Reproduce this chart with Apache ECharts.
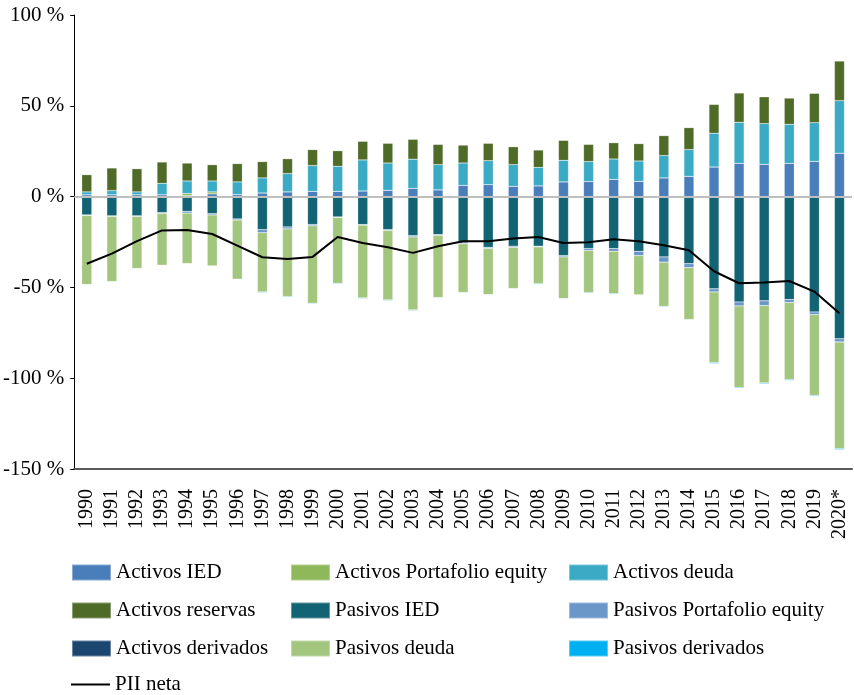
<!DOCTYPE html>
<html>
<head>
<meta charset="utf-8">
<script src="https://cdn.jsdelivr.net/npm/echarts@6/dist/echarts.min.js"></script>
<style>
  html, body { margin: 0; padding: 0; background: #fff; }
  #chart { width: 854px; height: 695px; }
</style>
</head>
<body>
<div id="chart"></div>
<script>
// años
var years = ['1990','1991','1992','1993','1994','1995','1996','1997','1998','1999',
  '2000','2001','2002','2003','2004','2005','2006','2007','2008','2009',
  '2010','2011','2012','2013','2014','2015','2016','2017','2018','2019','2020*'];

// activos (positivos)
var activosIED = [1.0,1.0,1.0,1.0,0.5,1.5,1.1,2.0,2.6,2.9,
  2.9,3.1,3.5,4.6,3.7,6.2,6.6,5.7,5.9,8.1,
  8.3,9.5,8.4,10.3,11.2,16.3,18.3,17.8,18.3,19.4,23.9];
var activosPortEquity = [0,0,0,0,1.2,1.1,0,0,0,0,
  0,0,0,0,0,0,0,0,0,0,
  0,0,0,0,0,0,0,0,0,0,0];
var activosDeuda = [1.6,2.3,1.6,6.3,6.9,6.0,7.0,8.3,10.1,14.2,
  13.8,17.1,15.0,16.0,13.9,12.3,13.2,11.9,10.2,11.9,
  11.0,11.2,11.2,12.3,14.7,18.6,22.6,22.4,21.5,21.3,28.9];
var activosReservas = [9.5,12.5,12.8,11.8,9.9,9.0,10.1,9.0,8.2,8.8,
  8.6,10.3,10.9,11.0,11.2,9.9,9.6,9.9,9.6,11.0,
  9.5,9.0,9.6,11.0,12.1,15.9,16.2,14.8,14.5,16.2,21.9];
var activosDerivados = [0,0,0,0,0,0,0,0,0,0,
  0,0,0,0,0,0,0,0,0,0,
  0,0,0,0,0,0,0,0,0,0,0];

// pasivos (negativos)
var pasivosIED = [-10.1,-10.6,-10.6,-8.8,-8.1,-9.4,-12.3,-18.2,-16.7,-15.4,
  -11.2,-15.4,-18.2,-21.5,-20.9,-25.5,-27.9,-27.3,-27.3,-32.5,
  -28.6,-28.6,-30.1,-33.2,-36.9,-50.8,-58.0,-57.4,-56.7,-63.5,-78.3];
var pasivosPortEquity = [-0.3,-0.3,-0.3,-0.5,-1.0,-0.7,-0.6,-1.7,-1.1,-0.7,
  -0.3,-0.3,-0.5,-0.7,-0.5,-0.5,-0.7,-0.7,-0.4,-0.7,
  -1.1,-1.5,-2.4,-2.9,-2.2,-1.7,-2.2,-2.6,-1.6,-1.5,-1.7];
var pasivosDeuda = [-38.0,-35.9,-28.7,-28.5,-27.8,-28.1,-32.6,-32.6,-37.2,-42.6,
  -36.2,-40.1,-38.2,-40.2,-34.2,-26.8,-25.3,-22.6,-20.2,-22.9,
  -23.1,-23.3,-21.6,-24.3,-28.6,-38.9,-44.8,-42.6,-42.4,-44.4,-58.7];
var pasivosDerivados = [0,0,0,0,0,0,0,-0.4,-0.4,-0.4,
  -0.4,-0.4,-0.4,-0.4,-0.3,-0.3,-0.3,-0.3,-0.4,-0.3,
  -0.4,-0.4,-0.3,-0.4,-0.3,-0.5,-0.5,-0.5,-0.5,-0.5,-0.6];

// PII neta
var piiNeta = [-37.0,-31.4,-24.5,-18.6,-18.4,-20.6,-27.0,-33.4,-34.3,-33.2,
  -22.2,-25.5,-27.9,-31.0,-27.3,-24.6,-24.6,-23.1,-22.2,-25.5,
  -25.1,-23.5,-24.6,-26.8,-29.5,-41.1,-47.7,-47.3,-46.5,-52.3,-64.2];

var yTicks = { min: -150, max: 100, interval: 50 };

var font = 'Liberation Serif';

function bar(name, data, color) {
  return {
    name: name,
    type: 'bar',
    stack: 'total',
    barWidth: 10,
    data: data,
    itemStyle: { color: color, borderColor: 'rgba(255,255,255,0.35)', borderWidth: 0.5 }
  };
}

var series = [
  bar('Activos IED', activosIED, '#4a7ebb'),
  bar('Activos Portafolio equity', activosPortEquity, '#8fb85b'),
  bar('Activos deuda', activosDeuda, '#3aaac5'),
  bar('Activos reservas', activosReservas, '#4f6b28'),
  bar('Activos derivados', activosDerivados, '#1b4670'),
  bar('Pasivos IED', pasivosIED, '#126373'),
  bar('Pasivos Portafolio equity', pasivosPortEquity, '#6a96c8'),
  bar('Pasivos deuda', pasivosDeuda, '#a3c67e'),
  bar('Pasivos derivados', pasivosDerivados, '#00b0f0'),
  {
    name: 'PII neta',
    type: 'line',
    data: piiNeta,
    symbol: 'none',
    z: 5,
    lineStyle: { color: '#000', width: 2 },
    itemStyle: { color: '#000' }
  }
];

// linea del cero, por encima de las barras
series[8].markLine = {
  silent: true,
  symbol: 'none',
  label: { show: false },
  lineStyle: { color: '#bfbfbf', width: 2, type: 'solid' },
  data: [{ yAxis: 0 }]
};

var legendText = { fontFamily: font, fontSize: 21, color: '#000' };

function legendCol(left, top, names) {
  return {
    orient: 'vertical',
    left: left,
    top: top,
    icon: 'rect',
    itemWidth: 39,
    itemHeight: 16,
    itemGap: 17,
    padding: 0,
    textStyle: legendText,
    data: names
  };
}

var chart = echarts.init(document.getElementById('chart'));
chart.setOption({
  animation: false,
  grid: { left: 72, right: 2, top: 15, bottom: 226 },
  legend: [
    legendCol(71, 562, ['Activos IED', 'Activos reservas', 'Activos derivados']),
    legendCol(290, 562, ['Activos Portafolio equity', 'Pasivos IED', 'Pasivos deuda']),
    legendCol(568, 562, ['Activos deuda', 'Pasivos Portafolio equity', 'Pasivos derivados']),
    legendCol(71, 674, [{ name: 'PII neta', icon: 'path://M0,0H39V2H0Z' }])
  ],
  xAxis: {
    type: 'category',
    data: years,
    axisLine: { onZero: false, lineStyle: { color: '#595959', width: 2 } },
    axisTick: { show: false },
    axisLabel: {
      rotate: 90,
      interval: 0,
      margin: 20,
      fontFamily: font,
      fontSize: 20,
      color: '#000'
    }
  },
  yAxis: {
    type: 'value',
    min: yTicks.min,
    max: yTicks.max,
    interval: yTicks.interval,
    axisLine: { show: true, lineStyle: { color: '#000', width: 1 } },
    axisTick: { show: true, length: 4, lineStyle: { color: '#000' } },
    splitLine: { show: false },
    axisLabel: {
      margin: 10,
      fontFamily: font,
      fontSize: 21,
      color: '#000',
      formatter: '{value} %'
    }
  },
  series: series
});
</script>
</body>
</html>
